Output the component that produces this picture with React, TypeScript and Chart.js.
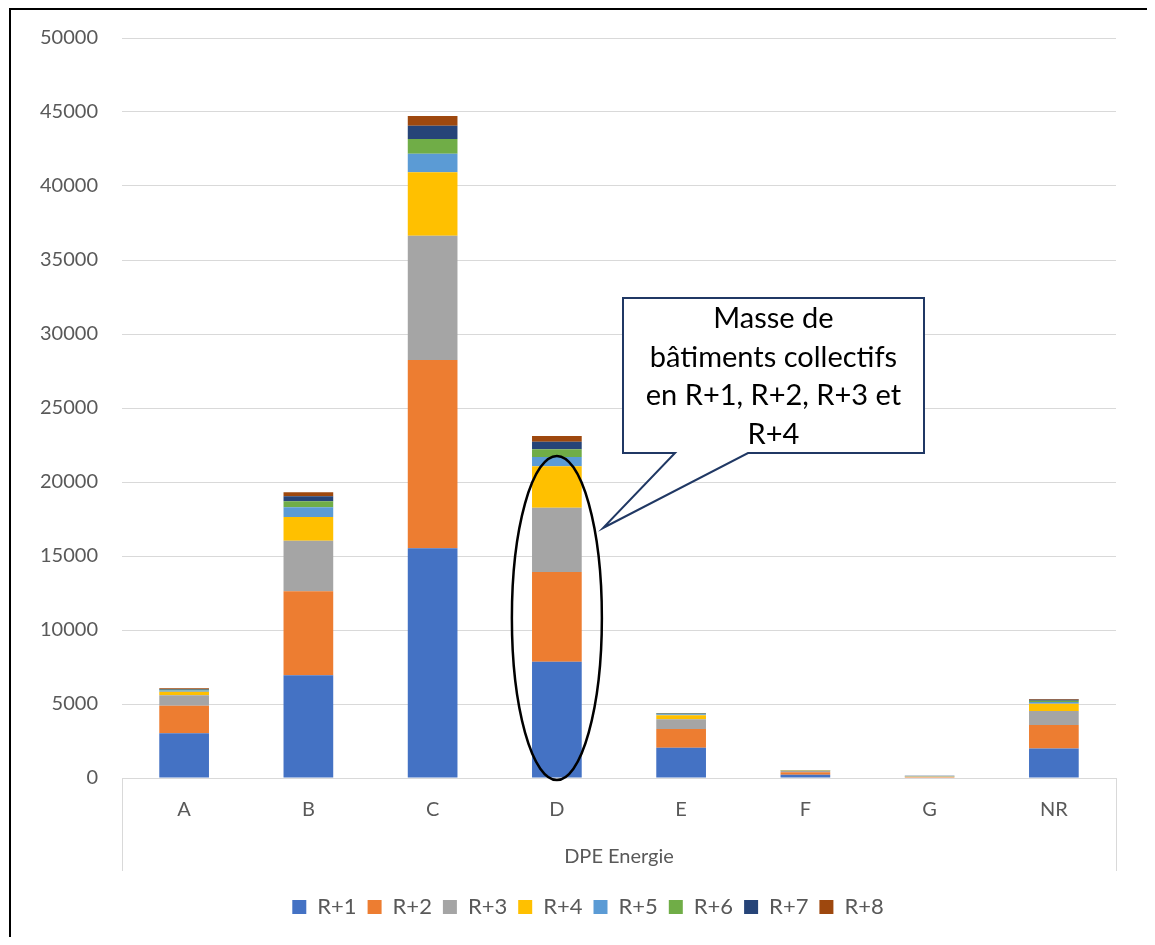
import React, { useEffect, useRef } from "react";
import { Chart, registerables } from "chart.js";

Chart.register(...registerables);

const categories = ["A", "B", "C", "D", "E", "F", "G", "NR"];
const seriesLabels = ["R+1", "R+2", "R+3", "R+4", "R+5", "R+6", "R+7", "R+8"];
const r1 = [3020, 6940, 15520, 7860, 2040, 220, 30, 2000];
const r2 = [1865, 5675, 12720, 6060, 1270, 165, 30, 1580];
const r3 = [705, 3420, 8400, 4345, 655, 80, 30, 950];
const r4 = [240, 1600, 4285, 2795, 270, 30, 10, 490];
const r5 = [80, 655, 1255, 630, 70, 15, 20, 115];
const r6 = [60, 405, 995, 517, 40, 10, 20, 85];
const r7 = [50, 335, 900, 518, 30, 10, 10, 70];
const r8 = [40, 270, 655, 385, 15, 15, 5, 50];
const seriesValues = [r1, r2, r3, r4, r5, r6, r7, r8];
const seriesColors = ["#4472C4", "#ED7D31", "#A5A5A5", "#FFC000", "#5B9BD5", "#70AD47", "#264478", "#9E480E"];

const axisTitle = "DPE Energie";
const calloutLines = ["Masse de", "bâtiments collectifs", "en R+1, R+2, R+3 et", "R+4"];
const highlightCategory = "D";
const highlightTop = 21760;
const highlightBottom = -140;

const FONT = "Lato, 'Open Sans', sans-serif";
const TEXT_GREY = "#595959";

const decorPlugin = {
  id: "decor",
  afterLayout(chart: any) {
    const lg = chart.legend;
    if (lg) {
      lg.left += 26;
      lg.right += 26;
    }
  },
  beforeDraw(chart: any) {
    const { ctx, width, height } = chart;
    ctx.save();
    ctx.fillStyle = "#ffffff";
    ctx.fillRect(0, 0, width, height);
    ctx.fillStyle = "#000000";
    ctx.fillRect(1, 0, 2, height);
    ctx.fillRect(1, 0, width, 2);
    ctx.restore();
  },
  afterDraw(chart: any) {
    const { ctx, chartArea } = chart;
    const xs = chart.scales.x;
    const ys = chart.scales.y;
    ctx.save();
    // category axis box edges
    ctx.strokeStyle = "#D9D9D9";
    ctx.lineWidth = 1;
    ctx.beginPath();
    ctx.moveTo(Math.round(chartArea.left) + 0.5, chartArea.bottom);
    ctx.lineTo(Math.round(chartArea.left) + 0.5, chartArea.bottom + 93);
    ctx.moveTo(Math.round(chartArea.right) + 0.5, chartArea.bottom);
    ctx.lineTo(Math.round(chartArea.right) + 0.5, chartArea.bottom + 93);
    ctx.stroke();

    // ellipse around highlighted bar
    const idx = categories.indexOf(highlightCategory);
    const cx = xs.getPixelForValue(idx);
    const yTop = ys.getPixelForValue(highlightTop);
    const yBot = ys.getPixelForValue(highlightBottom);
    ctx.strokeStyle = "#000000";
    ctx.lineWidth = 2.5;
    ctx.beginPath();
    ctx.ellipse(cx, (yTop + yBot) / 2, 45, (yBot - yTop) / 2, 0, 0, Math.PI * 2);
    ctx.stroke();

    // callout
    const L = chartArea.left + 501;
    const T = chartArea.top + 260;
    const W = 301;
    const H = 155;
    const tipX = chartArea.left + 481;
    const tipY = chartArea.top + 490;
    const b1 = L + 52;
    const b2 = L + 125;
    ctx.fillStyle = "#ffffff";
    ctx.strokeStyle = "#203864";
    ctx.lineWidth = 2;
    ctx.lineJoin = "miter";
    ctx.beginPath();
    ctx.moveTo(L, T);
    ctx.lineTo(L + W, T);
    ctx.lineTo(L + W, T + H);
    ctx.lineTo(b2, T + H);
    ctx.lineTo(tipX, tipY);
    ctx.lineTo(b1, T + H);
    ctx.lineTo(L, T + H);
    ctx.closePath();
    ctx.fill();
    ctx.stroke();
    ctx.fillStyle = "#000000";
    ctx.font = "29px " + FONT;
    ctx.textAlign = "center";
    ctx.textBaseline = "middle";
    calloutLines.forEach((line, i) => {
      ctx.fillText(line, L + W / 2, T + 21 + i * 38.5);
    });
    ctx.restore();
  },
};

export default function App() {
  const ref = useRef<HTMLCanvasElement>(null);
  useEffect(() => {
    if (!ref.current) return;
    const chart = new Chart(ref.current, {
      type: "bar",
      data: {
        labels: categories,
        datasets: seriesValues.map((vals, i) => ({
          label: seriesLabels[i],
          data: vals,
          backgroundColor: seriesColors[i],
          borderWidth: 0,
          barPercentage: 0.4,
          categoryPercentage: 1.0,
        })),
      },
      options: {
        animation: false,
        responsive: false,
        maintainAspectRatio: false,
        layout: { padding: { top: 30, left: 0, right: 31, bottom: 9 } },
        plugins: {
          legend: {
            position: "bottom",
            labels: {
              boxWidth: 14,
              boxHeight: 14,
              padding: 11,
              color: TEXT_GREY,
              font: { family: FONT, size: 22 },
            },
          },
          tooltip: { enabled: false },
        },
        scales: {
          x: {
            stacked: true,
            grid: { display: false, drawTicks: false },
            border: { display: false },
            ticks: { color: TEXT_GREY, font: { family: FONT, size: 20 }, padding: 20 },
            title: {
              display: true,
              text: axisTitle,
              color: TEXT_GREY,
              font: { family: FONT, size: 20 },
              padding: { top: 16, bottom: 16 },
            },
            afterFit(scale: any) {
              scale.height = 107;
              scale.paddingLeft = 0;
              scale.paddingRight = 0;
            },
          },
          y: {
            stacked: true,
            min: 0,
            max: 50000,
            ticks: {
              stepSize: 5000,
              color: TEXT_GREY,
              font: { family: FONT, size: 20 },
              padding: 24,
              callback: (v: any) => String(v),
            },
            grid: { color: "#D9D9D9", drawTicks: false, lineWidth: 1 },
            border: { display: false },
            afterFit(scale: any) {
              scale.width = 114;
              scale.paddingTop = 0;
              scale.paddingBottom = 0;
            },
          },
        },
      },
      plugins: [decorPlugin],
    });
    return () => chart.destroy();
  }, []);
  return (
    <div style={{ position: "relative", width: 1139, height: 929 }}>
      <canvas ref={ref} width={1139} height={929} style={{ display: "block" }} />
    </div>
  );
}
